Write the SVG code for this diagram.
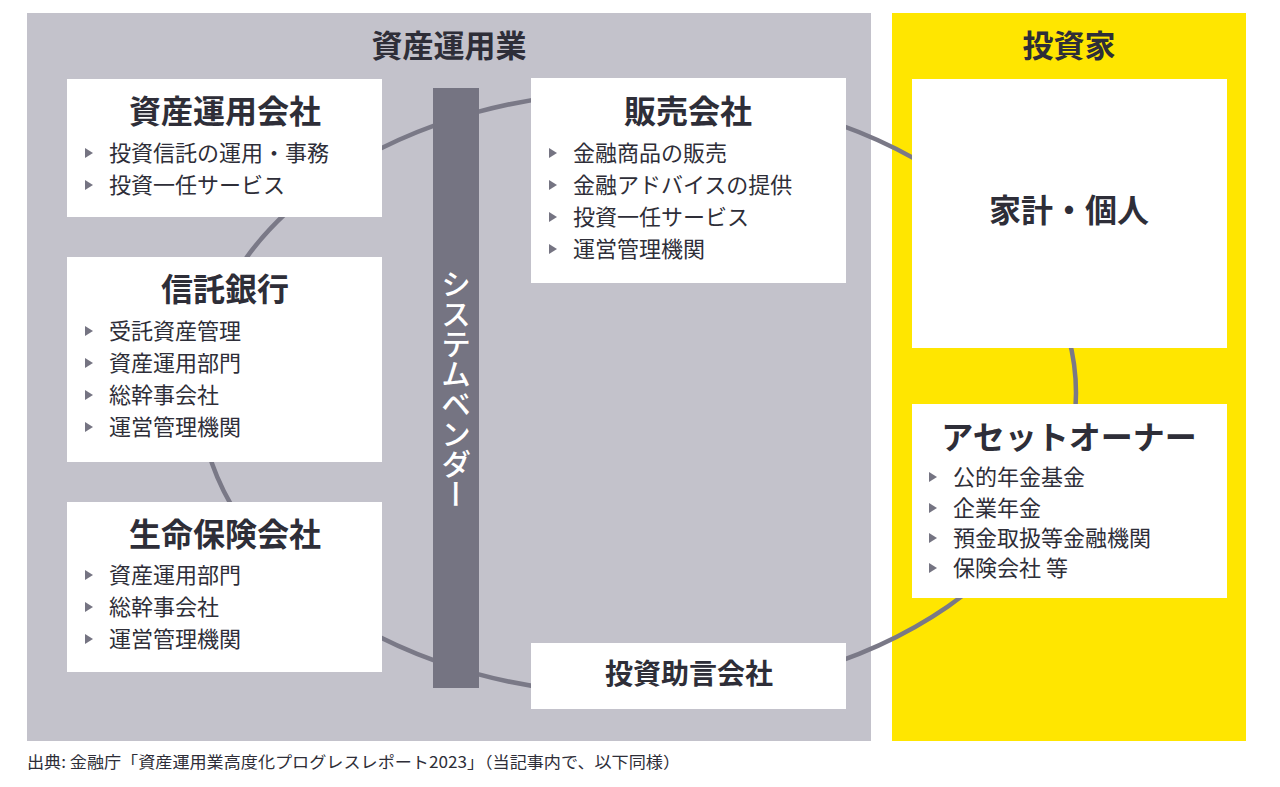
<svg xmlns="http://www.w3.org/2000/svg" width="1280" height="787" viewBox="0 0 1280 787">
<defs>
<style>
text{font-family:"Noto Sans CJK JP","Noto Sans",sans-serif;fill:#2e2e38;}
.ttl{font-size:32px;font-weight:700;text-anchor:middle;dominant-baseline:central;}
.sec{font-size:31px;font-weight:700;text-anchor:middle;dominant-baseline:central;}
.itm{font-size:22px;font-weight:400;dominant-baseline:central;}
.box{fill:#ffffff;}
.bul{fill:#757482;}
.foot{font-size:16px;font-weight:400;}
.vend{font-size:30px;font-weight:500;fill:#ffffff;writing-mode:vertical-rl;text-anchor:middle;}
</style>
<path id="tri" d="M0,-5 L8,0 L0,5 Z"/>
</defs>
<rect width="1280" height="787" fill="#ffffff"/>
<g id="panels">
<rect x="27" y="13" width="844" height="728" fill="#c3c2cb"/>
<rect x="892" y="13" width="354" height="728" fill="#ffe600"/>
<text class="sec" x="449" y="43">資産運用業</text>
<text class="sec" x="1069" y="43">投資家</text>
</g>
<g id="connectors">
<ellipse cx="638" cy="393" rx="438" ry="302" fill="none" stroke="#7a7987" stroke-width="4.5"/>
</g>
<g id="node-system-vendor">
<rect x="433" y="88" width="46" height="600" fill="#757482"/>
<text class="vend" x="456" y="389">システムベンダー</text>
</g>
<g id="node-asset-mgmt">
<rect class="box" x="67" y="79" width="315" height="138"/>
<text class="ttl" x="225" y="109">資産運用会社</text>
<use href="#tri" class="bul" x="85" y="153"/>
<text class="itm" x="109" y="151">投資信託の運用・事務</text>
<use href="#tri" class="bul" x="85" y="185"/>
<text class="itm" x="109" y="183">投資一任サービス</text>
</g>
<g id="node-trust-bank">
<rect class="box" x="67" y="257" width="315" height="205"/>
<text class="ttl" x="225" y="287">信託銀行</text>
<use href="#tri" class="bul" x="85" y="331"/>
<text class="itm" x="109" y="329">受託資産管理</text>
<use href="#tri" class="bul" x="85" y="363"/>
<text class="itm" x="109" y="361">資産運用部門</text>
<use href="#tri" class="bul" x="85" y="395"/>
<text class="itm" x="109" y="393">総幹事会社</text>
<use href="#tri" class="bul" x="85" y="427"/>
<text class="itm" x="109" y="425">運営管理機関</text>
</g>
<g id="node-life-insurance">
<rect class="box" x="67" y="502" width="315" height="170"/>
<text class="ttl" x="225" y="532">生命保険会社</text>
<use href="#tri" class="bul" x="85" y="575"/>
<text class="itm" x="109" y="573">資産運用部門</text>
<use href="#tri" class="bul" x="85" y="607"/>
<text class="itm" x="109" y="605">総幹事会社</text>
<use href="#tri" class="bul" x="85" y="639"/>
<text class="itm" x="109" y="637">運営管理機関</text>
</g>
<g id="node-distributor">
<rect class="box" x="531" y="78" width="315" height="205"/>
<text class="ttl" x="688" y="109">販売会社</text>
<use href="#tri" class="bul" x="549" y="153"/>
<text class="itm" x="573" y="151">金融商品の販売</text>
<use href="#tri" class="bul" x="549" y="185"/>
<text class="itm" x="573" y="183">金融アドバイスの提供</text>
<use href="#tri" class="bul" x="549" y="217"/>
<text class="itm" x="573" y="215">投資一任サービス</text>
<use href="#tri" class="bul" x="549" y="249"/>
<text class="itm" x="573" y="247">運営管理機関</text>
</g>
<g id="node-advisory">
<rect class="box" x="531" y="643" width="315" height="66"/>
<text class="ttl" x="689" y="672" style="font-size:28px">投資助言会社</text>
</g>
<g id="node-household">
<rect class="box" x="912" y="79" width="315" height="269"/>
<text class="ttl" x="1069" y="208">家計・個人</text>
</g>
<g id="node-asset-owner">
<rect class="box" x="912" y="404" width="315" height="194"/>
<text class="ttl" x="1069" y="435">アセットオーナー</text>
<use href="#tri" class="bul" x="929" y="477"/>
<text class="itm" x="953" y="475">公的年金基金</text>
<use href="#tri" class="bul" x="929" y="508"/>
<text class="itm" x="953" y="506">企業年金</text>
<use href="#tri" class="bul" x="929" y="538"/>
<text class="itm" x="953" y="536">預金取扱等金融機関</text>
<use href="#tri" class="bul" x="929" y="568"/>
<text class="itm" x="953" y="566">保険会社 等</text>
</g>
<text class="foot" x="27" y="768" textLength="653" lengthAdjust="spacingAndGlyphs">出典: 金融庁「資産運用業高度化プログレスレポート2023」（当記事内で、以下同様）</text>
</svg>
